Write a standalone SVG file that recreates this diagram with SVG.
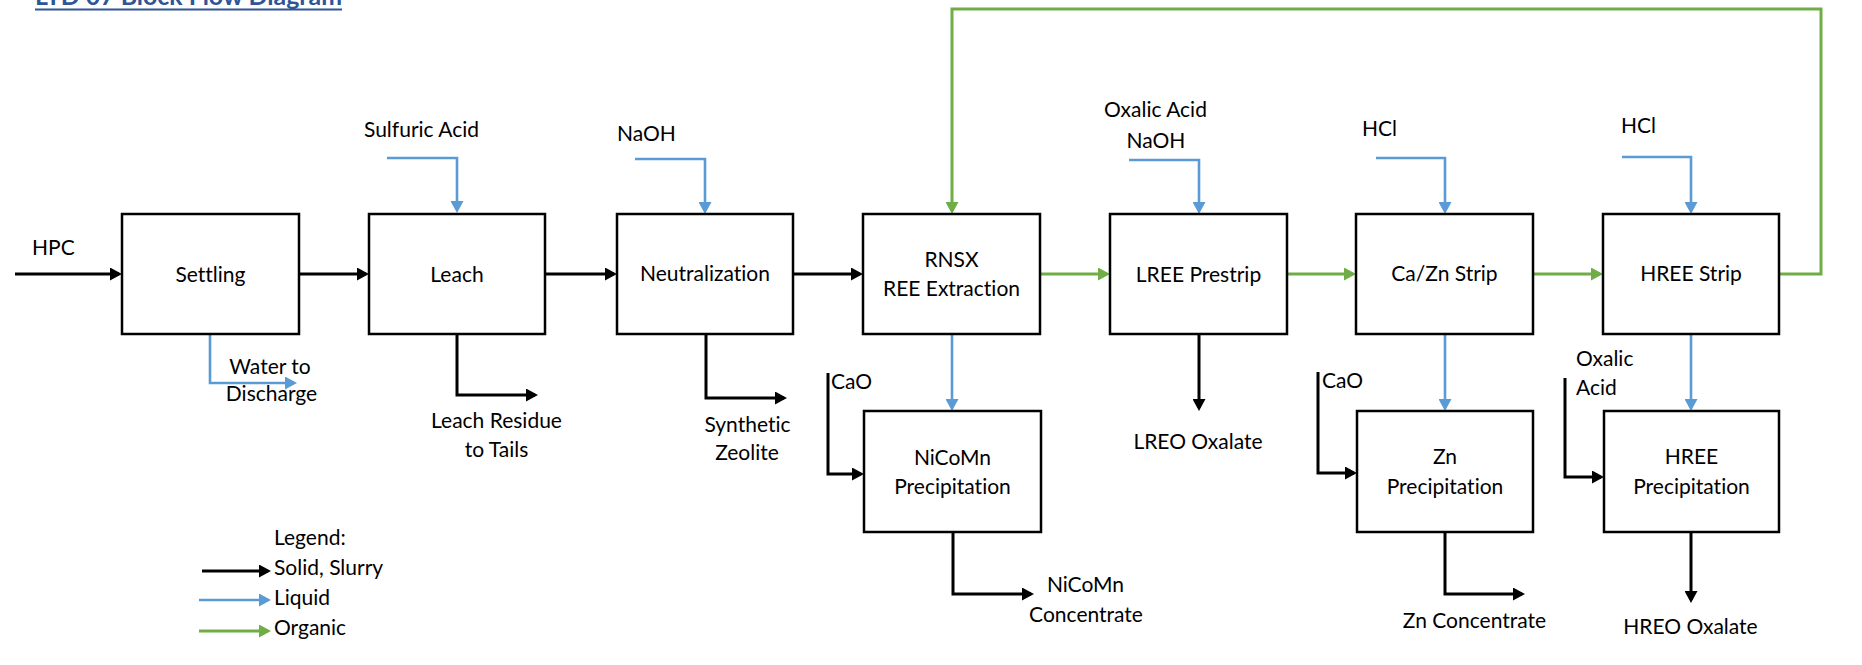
<svg xmlns="http://www.w3.org/2000/svg" width="1862" height="665" viewBox="0 0 1862 665">
  <style>
    .box { fill: #ffffff; stroke: #000000; stroke-width: 2.5; }
    text { font-family: Lato, "Liberation Sans", sans-serif; font-size: 21px; fill: #000000; font-variant-ligatures: none; font-feature-settings: "liga" 0, "clig" 0; }
    .c { text-anchor: middle; }
    .title { font-weight: bold; font-size: 24px; fill: #2F5597; }
    .solid { fill: none; stroke: #000000; stroke-width: 3; marker-end: url(#ahSolid); }
    .liquid { fill: none; stroke: #5B9BD5; stroke-width: 2.6; marker-end: url(#ahLiquid); }
    .organic { fill: none; stroke: #70AD47; stroke-width: 3; marker-end: url(#ahOrganic); }
  </style>
  <defs>
    <marker id="ahSolid" markerUnits="userSpaceOnUse" markerWidth="13" markerHeight="13" refX="9" refY="6.5" orient="auto">
      <path d="M0,0 L12,6.5 L0,13 z" fill="#000000"/>
    </marker>
    <marker id="ahLiquid" markerUnits="userSpaceOnUse" markerWidth="13" markerHeight="13" refX="9" refY="6.5" orient="auto">
      <path d="M0,0 L12,6.5 L0,13 z" fill="#5B9BD5"/>
    </marker>
    <marker id="ahOrganic" markerUnits="userSpaceOnUse" markerWidth="13" markerHeight="13" refX="9" refY="6.5" orient="auto">
      <path d="M0,0 L12,6.5 L0,13 z" fill="#70AD47"/>
    </marker>
  </defs>

  <rect width="1862" height="665" fill="#ffffff"/>

  <!-- heading, partly above the sheet edge -->
  <g id="heading">
    <text class="title" x="35" y="5" textLength="307" lengthAdjust="spacingAndGlyphs">LTD 07 Block Flow Diagram</text>
    <line x1="35" y1="9.5" x2="342" y2="9.5" stroke="#2F5597" stroke-width="2"/>
  </g>

  <!-- process streams -->
  <g id="connectors">
    <!-- main slurry train -->
    <path class="solid" d="M15,274 H119"/>
    <path class="solid" d="M299,274 H366"/>
    <path class="solid" d="M545,274 H614"/>
    <path class="solid" d="M793,274 H860"/>
    <!-- organic train and recycle -->
    <path class="organic" d="M1040,274 H1107"/>
    <path class="organic" d="M1287,274 H1353"/>
    <path class="organic" d="M1533,274 H1600"/>
    <path class="organic" d="M1779,274 H1821 V9 H952 V211"/>
    <!-- reagent feeds -->
    <path class="liquid" d="M387,158 H457 V210"/>
    <path class="liquid" d="M635,159 H705 V211"/>
    <path class="liquid" d="M1129,160 H1199 V211"/>
    <path class="liquid" d="M1376,158 H1445 V211"/>
    <path class="liquid" d="M1622,157 H1691 V211"/>
    <!-- underflows and products -->
    <path class="liquid" d="M210,334 V383 H294"/>
    <path class="solid" d="M457,334 V395 H535"/>
    <path class="solid" d="M706,334 V398 H784"/>
    <path class="liquid" d="M952,334 V408"/>
    <path class="solid" d="M828,373 V474 H861"/>
    <path class="solid" d="M953,532 V594 H1031"/>
    <path class="solid" d="M1199,334 V408"/>
    <path class="liquid" d="M1445,334 V408"/>
    <path class="solid" d="M1318,372 V473 H1354"/>
    <path class="solid" d="M1445,532 V594 H1522"/>
    <path class="liquid" d="M1691,334 V408"/>
    <path class="solid" d="M1565,378 V477 H1601"/>
    <path class="solid" d="M1691,532 V600"/>
    <!-- legend samples -->
    <path class="solid" d="M202,571 H268"/>
    <path class="liquid" d="M199,600 H268"/>
    <path class="organic" d="M199,631 H268"/>
  </g>

  <g id="settling">
    <rect class="box" x="122" y="214" width="177" height="120"/>
    <text class="c" x="210.5" y="282">Settling</text>
  </g>
  <g id="leach">
    <rect class="box" x="369" y="214" width="176" height="120"/>
    <text class="c" x="457" y="282">Leach</text>
  </g>
  <g id="neutralization">
    <rect class="box" x="617" y="214" width="176" height="120"/>
    <text class="c" x="705" y="281">Neutralization</text>
  </g>
  <g id="rnsx">
    <rect class="box" x="863" y="214" width="177" height="120"/>
    <text class="c" x="951.5" y="267">RNSX</text>
    <text class="c" x="951.5" y="296">REE Extraction</text>
  </g>
  <g id="lree-prestrip">
    <rect class="box" x="1110" y="214" width="177" height="120"/>
    <text class="c" x="1198.5" y="282">LREE Prestrip</text>
  </g>
  <g id="cazn-strip">
    <rect class="box" x="1356" y="214" width="177" height="120"/>
    <text class="c" x="1444.5" y="281">Ca/Zn Strip</text>
  </g>
  <g id="hree-strip">
    <rect class="box" x="1603" y="214" width="176" height="120"/>
    <text class="c" x="1691" y="281">HREE Strip</text>
  </g>
  <g id="nicomn-precipitation">
    <rect class="box" x="864" y="411" width="177" height="121"/>
    <text class="c" x="952.5" y="465">NiCoMn</text>
    <text class="c" x="952.5" y="494">Precipitation</text>
  </g>
  <g id="zn-precipitation">
    <rect class="box" x="1357" y="411" width="176" height="121"/>
    <text class="c" x="1445" y="464">Zn</text>
    <text class="c" x="1445" y="494">Precipitation</text>
  </g>
  <g id="hree-precipitation">
    <rect class="box" x="1604" y="411" width="175" height="121"/>
    <text class="c" x="1691.5" y="464">HREE</text>
    <text class="c" x="1691.5" y="494">Precipitation</text>
  </g>

  <!-- feed and product labels -->
  <g id="stream-labels">
    <text x="32" y="255">HPC</text>
    <text class="c" x="421.5" y="137">Sulfuric Acid</text>
    <text x="617" y="141">NaOH</text>
    <text class="c" x="1155.5" y="117">Oxalic Acid</text>
    <text class="c" x="1156" y="148">NaOH</text>
    <text x="1362" y="136">HCl</text>
    <text x="1621" y="133">HCl</text>
    <text class="c" x="270" y="374">Water to</text>
    <text class="c" x="271.5" y="401">Discharge</text>
    <text class="c" x="496.5" y="428">Leach Residue</text>
    <text class="c" x="496.5" y="457">to Tails</text>
    <text class="c" x="747.5" y="432">Synthetic</text>
    <text class="c" x="747" y="460">Zeolite</text>
    <text x="831" y="389">CaO</text>
    <text class="c" x="1085.5" y="592">NiCoMn</text>
    <text class="c" x="1086" y="622">Concentrate</text>
    <text class="c" x="1198" y="449">LREO Oxalate</text>
    <text x="1322" y="388">CaO</text>
    <text class="c" x="1474.5" y="628">Zn Concentrate</text>
    <text x="1576" y="366">Oxalic</text>
    <text x="1576" y="395">Acid</text>
    <text class="c" x="1690.5" y="634">HREO Oxalate</text>
  </g>

  <g id="legend">
    <text x="274" y="545">Legend:</text>
    <text x="274" y="575">Solid, Slurry</text>
    <text x="274" y="605">Liquid</text>
    <text x="274" y="635">Organic</text>
  </g>
</svg>
